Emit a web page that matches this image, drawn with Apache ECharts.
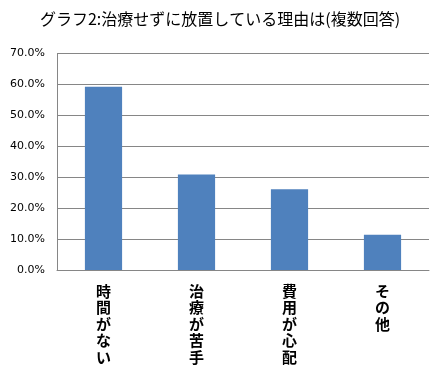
<!DOCTYPE html>
<html><head><meta charset="utf-8">
<script src="https://cdn.jsdelivr.net/npm/echarts@6/dist/echarts.min.js"></script>
<style>html,body{margin:0;padding:0;background:#fff}#c{width:440px;height:368px}</style>
</head><body><div id="c"></div>
<script>
const titleText = 'グラフ2:治療せずに放置している理由は(複数回答)';
const categories = ['時間がない', '治療が苦手', '費用が心配', 'その他'];
const values = [59.2, 30.9, 26.1, 11.4];
const yTicks = [0, 10, 20, 30, 40, 50, 60, 70];

const chart = echarts.init(document.getElementById('c'), null, {renderer: 'canvas'});
chart.setOption({
  animation: false,
  title: {
    text: titleText, left: 'center', top: 6,
    textStyle: {fontFamily: 'Noto Sans CJK JP', fontSize: 16, fontWeight: 'normal', color: '#000'}
  },
  grid: {left: 57, right: 11, top: 53.4, bottom: 98, containLabel: false},
  xAxis: {
    type: 'category', data: categories,
    axisLine: {lineStyle: {color: '#868686', width: 1}},
    axisTick: {show: false},
    axisLabel: {
      interval: 0, margin: 13,
      fontFamily: 'Noto Sans CJK JP', fontSize: 15, lineHeight: 16.5, color: '#000', fontWeight: 'bold',
      verticalAlign: 'top',
      formatter: v => v.split('').join('\n')
    }
  },
  yAxis: {
    type: 'value', min: yTicks[0], max: yTicks[yTicks.length - 1], interval: 10,
    axisLine: {show: true, lineStyle: {color: '#868686', width: 1}},
    axisTick: {show: false},
    splitLine: {lineStyle: {color: '#868686', width: 1}},
    axisLabel: {
      margin: 12, fontFamily: 'DejaVu Sans', fontSize: 11, color: '#000',
      formatter: v => v.toFixed(1) + '%'
    }
  },
  series: [{
    type: 'bar', data: values, barWidth: '40%',
    itemStyle: {color: '#4f81bd'}
  }]
});
</script></body></html>
